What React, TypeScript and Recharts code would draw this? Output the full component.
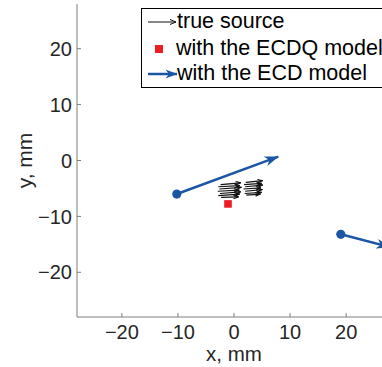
import React from 'react';
import { ComposedChart, Line, Scatter, XAxis, YAxis } from 'recharts';

const xTicks = [-20, -10, 0, 10, 20];
const yTicks = [-20, -10, 0, 10, 20];
const axisDomain: [number, number] = [-28, 28];

// true source arrows: [x1, y1, x2, y2]
const trueSourceArrows: number[][] = [
  [-2.4, -4.3, 1.2, -4.0],
  [-2.8, -4.7, 1.0, -4.5],
  [-2.6, -5.1, 1.3, -4.8],
  [-2.9, -5.5, 0.9, -5.3],
  [-2.5, -5.9, 1.2, -5.6],
  [-2.8, -6.3, 1.0, -6.0],
  [-2.3, -6.6, 0.8, -6.5],
  [2.1, -3.9, 5.1, -3.6],
  [1.8, -4.3, 4.9, -4.1],
  [2.0, -4.7, 5.1, -4.4],
  [1.7, -5.1, 4.8, -4.9],
  [2.0, -5.5, 5.0, -5.2],
  [1.9, -5.9, 4.9, -5.7],
  [2.2, -6.2, 4.7, -6.0],
];

// ECD model arrows: [x1, y1, x2, y2]
const ecdArrows: number[][] = [
  [-10.2, -6.0, 7.9, 0.7],
  [19.05, -13.2, 27.8, -15.5],
];

// ECDQ model points
const ecdqPoints = [{ x: -1.07, y: -7.77 }];

const FONT = '"Liberation Sans", Arial, Helvetica, sans-serif';
const BLUE = '#1b56a4';
const RED = '#ed1c24';
const AXIS = '#7f7f7f';
const TEXT = '#262626';

const fmt = (v: number) => (v < 0 ? `\u2212${-v}` : String(v));

const XTick = (props: any) => {
  const { x, y, payload } = props;
  return (
    <g>
      <line x1={x} x2={x} y1={y} y2={y - 4} stroke={AXIS} strokeWidth={1} />
      <text x={x} y={y + 21.5} textAnchor="middle" fontSize={20} fill={TEXT} fontFamily={FONT}>
        {fmt(payload.value)}
      </text>
    </g>
  );
};

const YTick = (props: any) => {
  const { x, y, payload } = props;
  return (
    <g>
      <line x1={x} x2={x + 4} y1={y} y2={y} stroke={AXIS} strokeWidth={1} />
      <text x={x - 5} y={y} dy="0.36em" textAnchor="end" fontSize={20} fill={TEXT} fontFamily={FONT}>
        {fmt(payload.value)}
      </text>
    </g>
  );
};

const toData = (a: number[]) => [
  { x: a[0], y: a[1] },
  { x: a[2], y: a[3] },
];

export default function App() {
  return (
    <div style={{ position: 'absolute', left: 0, top: 0, width: 382, height: 367, overflow: 'hidden', background: '#fff' }}>
      <ComposedChart width={391} height={367} margin={{ top: 4, right: 0, bottom: 0, left: 0 }}>
        <defs>
          <marker id="headBlack" markerUnits="userSpaceOnUse" markerWidth={6} markerHeight={5} viewBox="0 0 6 5" refX={5.5} refY={2.5} orient="auto">
            <path d="M0.5,0.8 L5.5,2.5 L0.5,4.2" fill="none" stroke="#111" strokeWidth={1.1} />
          </marker>
          <marker id="headBlue" markerUnits="userSpaceOnUse" markerWidth={14} markerHeight={11} viewBox="0 0 14 11" refX={13.5} refY={5.5} orient="auto">
            <path d="M0,0.5 L14,5.5 L0,10.5 L4,5.5 Z" fill={BLUE} />
          </marker>
        </defs>
        <XAxis
          type="number"
          dataKey="x"
          domain={axisDomain}
          allowDataOverflow
          ticks={xTicks}
          tickLine={false}
          tickSize={0}
          tickMargin={0}
          height={50}
          stroke={AXIS}
          tick={<XTick />}
          label={{
            content: (p: any) => {
              const vb = p.viewBox;
              return (
                <text x={vb.x + vb.width / 2} y={360.5} textAnchor="middle" fontSize={20.5} fill={TEXT} fontFamily={FONT}>
                  x, mm
                </text>
              );
            },
          }}
        />
        <YAxis
          type="number"
          dataKey="y"
          domain={axisDomain}
          allowDataOverflow
          ticks={yTicks}
          tickLine={false}
          tickSize={0}
          tickMargin={0}
          width={77}
          stroke={AXIS}
          tick={<YTick />}
          label={{
            content: (p: any) => {
              const vb = p.viewBox;
              const cy = vb.y + vb.height / 2;
              return (
                <text x={32} y={cy} transform={`rotate(-90 32 ${cy})`} textAnchor="middle" fontSize={21} fill={TEXT} fontFamily={FONT}>
                  y, mm
                </text>
              );
            },
          }}
        />
        {trueSourceArrows.map((a, i) => (
          <Line
            key={`t${i}`}
            data={toData(a)}
            dataKey="y"
            stroke="#111"
            strokeWidth={1.2}
            dot={false}
            activeDot={false}
            isAnimationActive={false}
            markerEnd="url(#headBlack)"
          />
        ))}
        {ecdArrows.map((a, i) => (
          <Line
            key={`e${i}`}
            data={toData(a)}
            dataKey="y"
            stroke={BLUE}
            strokeWidth={2.5}
            isAnimationActive={false}
            activeDot={false}
            markerEnd="url(#headBlue)"
            dot={(p: any) =>
              p.index === 0 ? <circle key={`d${i}`} cx={p.cx} cy={p.cy} r={4.6} fill={BLUE} /> : <g key={`n${i}`} />
            }
          />
        ))}
        <Scatter
          data={ecdqPoints}
          dataKey="y"
          isAnimationActive={false}
          shape={(p: any) => <rect x={p.cx - 3.8} y={p.cy - 3.8} width={7.6} height={7.6} fill={RED} />}
        />
      </ComposedChart>
      <div
        style={{
          position: 'absolute',
          left: 141,
          top: 8,
          width: 260,
          height: 78,
          border: '1px solid #000',
          background: '#fff',
          fontFamily: FONT,
          fontSize: 21.5,
          color: '#000',
        }}
      >
        <svg width={40} height={78} style={{ position: 'absolute', left: 0, top: 0 }}>
          <defs>
            <marker id="lgBlack" markerUnits="userSpaceOnUse" markerWidth={7} markerHeight={6} viewBox="0 0 7 6" refX={6.5} refY={3} orient="auto">
              <path d="M0.5,0.5 L6.5,3 L0.5,5.5" fill="none" stroke="#111" strokeWidth={1} />
            </marker>
            <marker id="lgBlue" markerUnits="userSpaceOnUse" markerWidth={12} markerHeight={10} viewBox="0 0 12 10" refX={11.5} refY={5} orient="auto">
              <path d="M0,0.5 L12,5 L0,9.5 L3.5,5 Z" fill={BLUE} />
            </marker>
          </defs>
          <line x1={6} x2={34} y1={13} y2={13} stroke="#111" strokeWidth={1} markerEnd="url(#lgBlack)" />
          <rect x={13} y={36} width={8} height={8} fill={RED} />
          <line x1={6} x2={35} y1={65} y2={65} stroke={BLUE} strokeWidth={2.5} markerEnd="url(#lgBlue)" />
        </svg>
        <span style={{ position: 'absolute', left: 35, top: 0, whiteSpace: 'nowrap', lineHeight: '25px' }}>true source</span>
        <span style={{ position: 'absolute', left: 34, top: 27, whiteSpace: 'nowrap', lineHeight: '25px' }}>with the ECDQ model</span>
        <span style={{ position: 'absolute', left: 35, top: 52, whiteSpace: 'nowrap', lineHeight: '25px' }}>with the ECD model</span>
      </div>
    </div>
  );
}
